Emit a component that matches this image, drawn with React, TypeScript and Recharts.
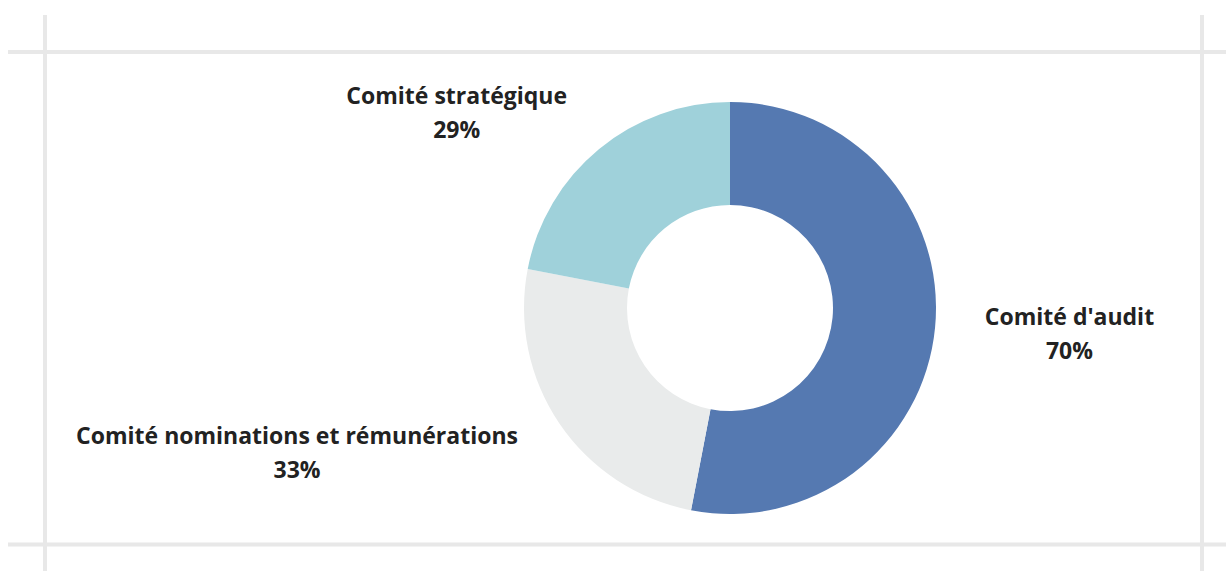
import React from "react";
import { PieChart, Pie, Cell } from "recharts";

const categories = ["Comité d'audit", "Comité nominations et rémunérations", "Comité stratégique"];
const values = [70, 33, 29];
const percentLabels = ["70%", "33%", "29%"];
const colors = ["#5579b1", "#e9ebeb", "#9fd1da"];

const data = categories.map((name, i) => ({ name, value: values[i], pct: percentLabels[i] }));

const FONT = "'Open Sans', sans-serif";
const FONT_SIZE = 23;

let ctx: CanvasRenderingContext2D | null = null;
function measure(text: string): number {
  if (!ctx) {
    const c = document.createElement("canvas");
    ctx = c.getContext("2d");
  }
  if (!ctx) return text.length * 12;
  ctx.font = `bold ${FONT_SIZE}px 'Open Sans'`;
  return ctx.measureText(text).width;
}

const RADIAN = Math.PI / 180;

const renderLabel = (props: any) => {
  const { cx, cy, midAngle, index } = props;
  const r = 256;
  const px = cx + r * Math.cos(-midAngle * RADIAN);
  const py = cy + r * Math.sin(-midAngle * RADIAN);
  const l1 = data[index].name;
  const l2 = data[index].pct;
  const w = Math.max(measure(l1), measure(l2));
  const right = px >= cx;
  const centerX = right ? px + w / 2 : px - w / 2;
  return (
    <text
      x={centerX}
      y={py}
      textAnchor="middle"
      fill="#222222"
      fontFamily={FONT}
      fontWeight={700}
      fontSize={FONT_SIZE}
    >
      <tspan x={centerX} y={py - 7}>{l1}</tspan>
      <tspan x={centerX} y={py + 27}>{l2}</tspan>
    </text>
  );
};

export default function App() {
  return (
    <div style={{ position: "fixed", left: 0, top: 0, width: 1226, height: 571, background: "#ffffff" }}>
      <svg width={1226} height={571} style={{ position: "absolute", left: 0, top: 0 }}>
        <line x1={8} y1={52} x2={1226} y2={52} stroke="#e8e8e8" strokeWidth={4} />
        <line x1={8} y1={544.5} x2={1226} y2={544.5} stroke="#e8e8e8" strokeWidth={4} />
        <line x1={45} y1={15} x2={45} y2={571} stroke="#e8e8e8" strokeWidth={4} />
        <line x1={1202} y1={15} x2={1202} y2={571} stroke="#e8e8e8" strokeWidth={4} />
      </svg>
      <div style={{ position: "absolute", left: 0, top: 0 }}>
        <PieChart width={1226} height={571} margin={{ top: 0, right: 0, bottom: 0, left: 0 }}>
          <Pie
            data={data}
            dataKey="value"
            nameKey="name"
            cx={730}
            cy={308}
            innerRadius={103}
            outerRadius={206}
            startAngle={90}
            endAngle={-270}
            stroke="none"
            labelLine={false}
            label={renderLabel}
            isAnimationActive={false}
          >
            {data.map((d, i) => (
              <Cell key={d.name} fill={colors[i]} />
            ))}
          </Pie>
        </PieChart>
      </div>
    </div>
  );
}
